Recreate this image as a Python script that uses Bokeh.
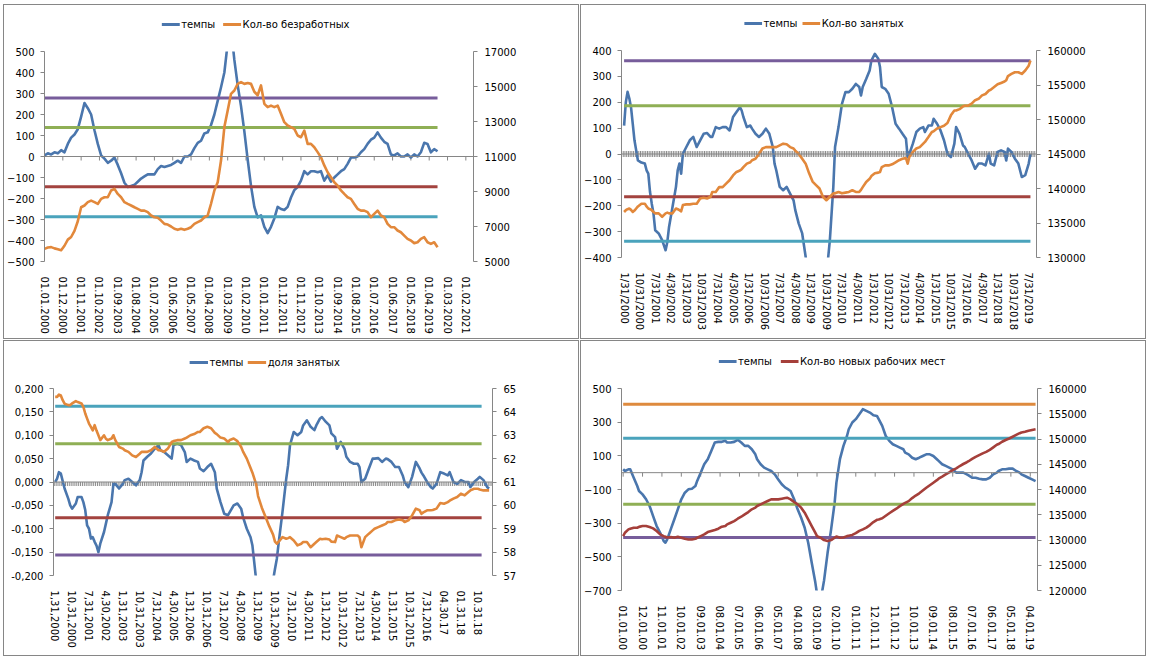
from bokeh.plotting import figure
from bokeh.models import (Range1d, LinearAxis, FixedTicker, Span,
                          CustomJSTickFormatter, BasicTickFormatter)
from bokeh.layouts import column, row
from bokeh.core.properties import value
from bokeh.embed import file_html
from bokeh.resources import INLINE

FONT = "DejaVu Sans"
BLUE = "#4A76AD"
ORANGE = "#E2883B"
DARKRED = "#A53F3A"
PURPLE = "#775D9B"
GREEN = "#8FAF55"
RED = "#A3433F"
TEAL = "#4AA3BC"
LORANGE = "#DE8A3E"
AXIS = "#868686"

# ================= Panel 1: темпы / Кол-во безработных =================
# x = months since Jan 2000
p1_month = list(range(0, 237, 2))
p1_tempy = [5, 15, 10, 20, 15, 30, 20, 60, 90, 105,
            130, 190, 255, 230, 200, 125, 60, 5, -10, -30,
            -20, -5, -40, -80, -125, -145, -140, -135, -120, -105,
            -95, -85, -85, -85, -60, -45, -50, -45, -40, -30,
            -20, -30, 0, 0, 10, 40, 65, 75, 110, 115,
            150, 200, 265, 330, 400, 540, 610, 460, 340, 240,
            120, -15, -140, -240, -290, -280, -335, -365, -335, -295,
            -240, -250, -255, -240, -195, -160, -145, -115, -70, -85,
            -70, -70, -75, -70, -115, -90, -120, -100, -85, -70,
            -60, -35, -5, -5, 0, 20, 35, 60, 80, 90,
            115, 90, 70, 60, 10, 5, 15, 0, 0, 10,
            -5, 10, 0, 20, 65, 60, 20, 35, 25]
p1_unemp = [5720, 5800, 5820, 5750, 5700, 5640, 5900, 6250, 6400, 6750,
            7300, 8100, 8200, 8390, 8480, 8390, 8290, 8580, 8670, 8670,
            9060, 9150, 8860, 8670, 8390, 8290, 8200, 8100, 8010, 7910,
            7910, 7820, 7630, 7530, 7500, 7340, 7150, 7110, 7000, 6870,
            6810, 6870, 6810, 6870, 6960, 7150, 7250, 7340, 7530, 7630,
            8300, 9060, 9530, 10770, 12680, 13630, 14580, 14770, 15150, 15250,
            15150, 15200, 15150, 14700, 14500, 15060, 14010, 13820, 13910, 13820,
            13910, 13440, 12960, 12770, 12680, 12580, 12200, 12100, 12480, 11720,
            11720, 11530, 11250, 10960, 10490, 10100, 9820, 9530, 9340, 9060,
            8860, 8670, 8580, 8290, 8010, 7910, 7910, 7820, 7530, 7720,
            7910, 7630, 7530, 7150, 6960, 6960, 6770, 6670, 6480, 6290,
            6200, 6050, 6100, 6290, 6390, 6100, 6010, 6100, 5820]
p1_levels = [279, 138, -144, -287]
p1_level_colors = [PURPLE, GREEN, RED, TEAL]
p1_label_month = list(range(0, 254, 11))
p1_labels = ["01.01.2000", "01.12.2000", "01.11.2001", "01.10.2002", "01.09.2003",
             "01.08.2004", "01.07.2005", "01.06.2006", "01.05.2007", "01.04.2008",
             "01.03.2009", "01.02.2010", "01.01.2011", "01.12.2011", "01.11.2012",
             "01.10.2013", "01.09.2014", "01.08.2015", "01.07.2016", "01.06.2017",
             "01.05.2018", "01.04.2019", "01.03.2020", "01.02.2021"]
p1_left_ticks = [-500, -400, -300, -200, -100, 0, 100, 200, 300, 400, 500]
p1_right_ticks = [5000, 7000, 9000, 11000, 13000, 15000, 17000]

# ================= Panel 2: темпы / Кол-во занятых =================
p2_month = [0, 1, 2, 3, 4, 5, 6, 7, 8, 10,
            12, 13, 14, 15, 16, 17, 18, 20, 22, 24,
            25, 26, 28, 30, 31, 32, 33, 34, 36, 38,
            40, 42, 44, 46, 48, 50, 51, 53, 55, 57,
            59, 61, 63, 65, 67, 68, 69, 71, 73, 74,
            76, 78, 80, 82, 84, 86, 87, 88, 90, 92,
            94, 96, 98, 99, 101, 103, 105, 107, 109, 111,
            113, 115, 117, 119, 121, 122, 124, 126, 128, 130,
            132, 134, 136, 137, 138, 140, 142, 143, 145, 147,
            148, 149, 151, 153, 155, 157, 159, 161, 163, 164,
            165, 167, 169, 171, 173, 174, 176, 178, 179, 181,
            183, 185, 187, 189, 191, 192, 194, 196, 197, 199,
            201, 203, 205, 207, 209, 211, 212, 214, 216, 218,
            220, 221, 222, 224, 226, 228, 230, 232, 234, 235]
p2_tempy = [110, 200, 240, 215, 181, 117, 53, 14, -25, -33,
            -37, -63, -76, -147, -192, -230, -295, -307, -333, -372,
            -340, -282, -205, -127, -63, -37, -76, 1, 27, 53,
            66, 27, 53, 78, 81, 66, 66, 104, 98, 104,
            104, 91, 143, 162, 181, 168, 143, 104, 110, 98,
            78, 66, 78, 98, 78, 27, -37, -63, -127, -140,
            -127, -153, -179, -217, -269, -307, -397, -520, -620, -680,
            -670, -600, -470, -333, -127, 27, 104, 194, 239, 239,
            252, 271, 259, 226, 259, 290, 323, 361, 387, 368,
            336, 259, 252, 233, 181, 117, 98, 78, 59, -12,
            1, 40, 85, 98, 104, 85, 110, 110, 136, 117,
            91, 53, 1, -12, 40, 104, 78, 33, 27, 1,
            -25, -57, -37, -37, -44, 1, -37, -44, 8, 14,
            8, -25, 21, 8, -18, -37, -89, -82, -37, 1]
p2_employed = [136600, 136850, 137000, 137100, 136900, 136600, 136800, 137100, 137400, 137800,
               137800, 137400, 137100, 137000, 136850, 136600, 136400, 136400, 135900, 136400,
               136500, 136400, 136400, 137100, 137000, 136850, 136700, 137600, 137700, 137700,
               137800, 137800, 138550, 138650, 138550, 138800, 139500, 139500, 140200, 140200,
               140700, 141200, 141900, 142400, 142600, 142800, 143100, 143600, 143800, 144100,
               144300, 145000, 145800, 146000, 146000, 146000, 146000, 146000, 146250, 146500,
               146400, 146000, 145800, 145500, 145000, 144300, 143600, 142200, 141000, 140500,
               140000, 138800, 138300, 138800, 139300, 139300, 139500, 139300, 139400, 139500,
               139750, 139500, 139500, 139800, 140200, 140950, 141400, 141800, 142200, 142300,
               142400, 143100, 143350, 143350, 143500, 143800, 144100, 144300, 144400, 143600,
               144600, 145300, 145800, 146000, 146500, 146750, 147450, 148200, 148300, 148700,
               148900, 149100, 149500, 150600, 151300, 151300, 151500, 151900, 152000, 152000,
               152300, 152800, 153000, 153500, 153700, 154200, 154300, 154700, 155100, 155300,
               155500, 155700, 156300, 156600, 156850, 156850, 156600, 157100, 157800, 158550]
p2_levels = [360, 186, -165, -337]
p2_level_colors = [PURPLE, GREEN, RED, TEAL]
p2_label_month = list(range(0, 235, 9))
p2_labels = ["1/31/2000", "10/31/2000", "7/31/2001", "4/30/2002", "1/31/2003",
             "10/31/2003", "7/31/2004", "4/30/2005", "1/31/2006", "10/31/2006",
             "7/31/2007", "4/30/2008", "1/31/2009", "10/31/2009", "7/31/2010",
             "4/30/2011", "1/31/2012", "10/31/2012", "7/31/2013", "4/30/2014",
             "1/31/2015", "10/31/2015", "7/31/2016", "4/30/2017", "1/31/2018",
             "10/31/2018", "7/31/2019"]
p2_left_ticks = [-400, -300, -200, -100, 0, 100, 200, 300, 400]
p2_right_ticks = [130000, 135000, 140000, 145000, 150000, 155000, 160000]

# ================= Panel 3: темпы / доля занятых =================
p3_month = [0, 1, 2, 3, 4, 5, 7, 8, 9, 11,
            12, 14, 15, 16, 17, 18, 19, 20, 21, 22,
            23, 24, 26, 27, 28, 30, 31, 32, 34, 36,
            37, 39, 41, 43, 45, 46, 47, 49, 51, 53,
            55, 56, 58, 60, 62, 63, 65, 67, 69, 70,
            72, 74, 76, 77, 79, 81, 83, 85, 86, 88,
            90, 92, 93, 95, 97, 99, 100, 102, 104, 105,
            107, 108, 110, 112, 114, 116, 117, 118, 119, 121,
            123, 124, 125, 127, 129, 131, 132, 134, 136, 138,
            139, 141, 142, 144, 146, 147, 149, 150, 152, 154,
            155, 157, 159, 161, 162, 163, 165, 167, 169, 170,
            172, 174, 176, 177, 179, 181, 183, 185, 186, 188,
            190, 192, 194, 195, 196, 198, 200, 201, 203, 205,
            207, 209, 210, 212, 214, 216, 218, 220, 221, 223,
            225, 226, 228, 230, 231]
p3_tempy = [0.000, 0.007, 0.021, 0.018, 0.002, -0.014, -0.036, -0.050, -0.057, -0.046,
            -0.032, -0.032, -0.043, -0.060, -0.093, -0.100, -0.121, -0.118, -0.128, -0.136,
            -0.150, -0.132, -0.107, -0.089, -0.071, -0.043, -0.004, -0.004, -0.014, -0.004,
            0.004, 0.007, 0.000, -0.007, 0.004, 0.021, 0.046, 0.054, 0.061, 0.071,
            0.079, 0.068, 0.064, 0.057, 0.050, 0.079, 0.082, 0.079, 0.064, 0.043,
            0.050, 0.046, 0.043, 0.029, 0.023, 0.032, 0.039, 0.021, -0.014, -0.043,
            -0.068, -0.071, -0.064, -0.050, -0.046, -0.057, -0.075, -0.100, -0.118, -0.136,
            -0.210, -0.240, -0.270, -0.280, -0.250, -0.210, -0.186, -0.164, -0.129, -0.064,
            0.007, 0.036, 0.079, 0.107, 0.100, 0.107, 0.121, 0.132, 0.118, 0.111,
            0.121, 0.136, 0.139, 0.129, 0.121, 0.104, 0.096, 0.071, 0.086, 0.071,
            0.054, 0.043, 0.039, 0.039, 0.032, 0.000, 0.007, 0.029, 0.050, 0.050,
            0.051, 0.043, 0.050, 0.049, 0.043, 0.032, 0.032, 0.014, 0.000, -0.011,
            0.011, 0.043, 0.029, 0.020, 0.014, 0.000, -0.011, -0.014, -0.004, 0.021,
            0.018, 0.014, 0.021, 0.000, -0.004, 0.004, 0.000, 0.000, -0.011, 0.000,
            0.007, 0.011, 0.004, -0.011, -0.014]
p3_share = [64.64, 64.64, 64.74, 64.70, 64.50, 64.35, 64.29, 64.29, 64.36, 64.46,
            64.42, 64.36, 64.21, 63.93, 63.71, 63.50, 63.36, 63.21, 63.43, 63.20,
            63.00, 62.79, 63.00, 62.85, 62.79, 62.86, 63.00, 62.79, 62.50, 62.43,
            62.36, 62.29, 62.14, 62.07, 62.21, 62.29, 62.29, 62.29, 62.36, 62.50,
            62.36, 62.36, 62.29, 62.43, 62.71, 62.75, 62.79, 62.79, 62.86, 62.90,
            63.00, 63.05, 63.14, 63.14, 63.30, 63.36, 63.30, 63.10, 63.05, 62.90,
            62.86, 62.71, 62.80, 62.86, 62.75, 62.50, 62.30, 62.00, 61.60, 61.40,
            60.90, 60.40, 59.90, 59.50, 59.10, 58.75, 58.45, 58.36, 58.45, 58.64,
            58.57, 58.60, 58.64, 58.50, 58.29, 58.36, 58.43, 58.43, 58.21, 58.36,
            58.43, 58.57, 58.55, 58.57, 58.54, 58.45, 58.43, 58.71, 58.64, 58.57,
            58.64, 58.71, 58.71, 58.71, 58.64, 58.21, 58.64, 58.79, 58.93, 59.00,
            59.07, 59.14, 59.21, 59.29, 59.29, 59.36, 59.40, 59.36, 59.29, 59.36,
            59.57, 59.86, 59.79, 59.64, 59.70, 59.79, 59.79, 59.80, 59.86, 60.10,
            60.07, 60.14, 60.20, 60.29, 60.36, 60.50, 60.43, 60.57, 60.64, 60.71,
            60.71, 60.68, 60.64, 60.64, 60.64]
p3_levels = [0.162, 0.082, -0.0764, -0.156]
p3_level_colors = [TEAL, GREEN, RED, PURPLE]
p3_level_end = 227
p3_label_month = list(range(0, 226, 9))
p3_labels = ["1,31,2000", "10,31,2000", "7,31,2001", "4,30,2002", "1,31,2003",
             "10,31,2003", "7,31,2004", "4,30,2005", "1,31,2006", "10,31,2006",
             "7,31,2007", "4,30,2008", "1,31,2009", "10,31,2009", "7,31,2010",
             "4,30,2011", "1,31,2012", "10,31,2012", "7,31,2013", "4,30,2014",
             "1,31,2015", "10,31,2015", "7,31,2016", "04.30.17", "01.31.18", "10.31.18"]
p3_left_ticks = [-0.2, -0.15, -0.1, -0.05, 0.0, 0.05, 0.1, 0.15, 0.2]
p3_right_ticks = [57, 58, 59, 60, 61, 62, 63, 64, 65]

# ================= Panel 4: темпы / Кол-во новых рабочих мест =================
p4_month = [0, 1, 3, 4, 6, 8, 9, 11, 13, 15,
            17, 19, 21, 23, 24, 25, 27, 29, 31, 33,
            35, 37, 39, 41, 42, 44, 46, 48, 50, 52,
            54, 56, 58, 59, 61, 63, 65, 67, 69, 71,
            73, 75, 76, 78, 80, 82, 84, 86, 88, 90,
            92, 93, 95, 97, 99, 101, 103, 105, 107, 109,
            110, 112, 114, 116, 118, 120, 121, 123, 125, 127,
            128, 130, 132, 134, 136, 138, 140, 142, 144, 145,
            147, 149, 151, 153, 155, 157, 159, 160, 162, 164,
            166, 168, 170, 172, 174, 176, 178, 179, 181, 183,
            185, 187, 189, 191, 193, 195, 196, 198, 200, 202,
            204, 206, 208, 210, 212, 213, 215, 217, 219, 221,
            223, 225, 226, 228, 230, 232, 234]
p4_tempy = [20, 10, 20, 20, -30, -79, -109, -129, -158, -198,
            -258, -317, -357, -406, -416, -396, -337, -278, -218, -158,
            -119, -99, -95, -79, -49, 0, 50, 80, 129, 179,
            183, 183, 189, 179, 179, 183, 195, 179, 159, 159,
            139, 109, 80, 50, 30, 20, 10, -10, -40, -69,
            -89, -95, -109, -158, -218, -268, -327, -416, -535, -650,
            -720, -760, -640, -476, -337, -178, -59, 80, 159, 218,
            258, 298, 318, 347, 377, 367, 357, 341, 337, 318,
            278, 218, 189, 169, 159, 149, 139, 119, 109, 89,
            80, 89, 99, 109, 109, 99, 80, 70, 50, 40,
            30, 20, 0, 0, 0, -10, -16, -30, -30, -36,
            -40, -40, -30, -10, 0, 10, 20, 20, 24, 24,
            10, 0, -10, -20, -30, -40, -50]
p4_newjobs = [130770, 131440, 132100, 132230, 132430, 132430, 132600, 132760, 132760, 132560,
              132300, 131770, 131110, 130770, 130650, 130510, 130580, 130440, 130640, 130440,
              130250, 130110, 130110, 130250, 130440, 130770, 131110, 131570, 131770, 131970,
              132230, 132630, 132760, 133090, 133420, 133750, 134210, 134610, 135070, 135530,
              136070, 136400, 136730, 137060, 137390, 137720, 138050, 138050, 138050, 138180,
              138310, 138380, 138050, 137520, 137060, 136400, 135400, 134080, 132760, 131440,
              130770, 130440, 129980, 129780, 129980, 130440, 130700, 130440, 130510, 130770,
              130850, 131000, 131350, 131800, 132100, 132450, 132950, 133550, 134000, 134080,
              134300, 134800, 135300, 135750, 136200, 136700, 137150, 137350, 137700, 138300,
              138800, 139250, 139800, 140350, 140850, 141350, 141850, 142150, 142550, 143000,
              143400, 143850, 144200, 144650, 145050, 145400, 145600, 146050, 146450, 146800,
              147150, 147450, 147850, 148350, 148850, 149000, 149450, 149800, 150100, 150450,
              150800, 151150, 151300, 151450, 151650, 151800, 151930]
p4_levels = [407, 204, -188, -385]
p4_level_colors = [LORANGE, TEAL, GREEN, PURPLE]
p4_label_month = list(range(0, 232, 11))
p4_labels = ["01.01.00", "12.01.00", "11.01.01", "10.01.02", "09.01.03", "08.01.04",
             "07.01.05", "06.01.06", "05.01.07", "04.01.08", "03.01.09", "02.01.10",
             "01.01.11", "12.01.11", "11.01.12", "10.01.13", "09.01.14", "08.01.15",
             "07.01.16", "06.01.17", "05.01.18", "04.01.19"]
p4_left_ticks = [-700, -500, -300, -100, 100, 300, 500]
p4_right_ticks = [120000, 125000, 130000, 135000, 140000, 145000, 150000, 155000, 160000]


def style_axis(ax, standoff):
    ax.axis_line_color = AXIS
    ax.major_tick_line_color = AXIS
    ax.major_tick_out = 4
    ax.major_tick_in = 0
    ax.minor_tick_line_color = None
    ax.major_label_text_font = FONT
    ax.major_label_text_font_size = "10px"
    ax.major_label_text_color = "#000000"
    ax.major_label_standoff = standoff


def legend_fig(w, lh, yc, x0s, colors, names):
    f = figure(width=w, height=lh, x_range=Range1d(0, w), y_range=Range1d(0, lh),
               output_backend="svg", toolbar_location=None,
               x_axis_type=None, y_axis_type=None,
               min_border_left=0, min_border_right=0, min_border_top=0, min_border_bottom=0)
    f.outline_line_color = None
    f.xgrid.visible = False
    f.ygrid.visible = False
    yy = lh - yc
    f.segment(x0=x0s, x1=[x + 24 for x in x0s], y0=[yy] * len(x0s), y1=[yy] * len(x0s),
              line_color=colors, line_width=2.8)
    f.text(x=[x + 26 for x in x0s], y=[yy] * len(x0s), text=names,
           text_font=value(FONT), text_font_size=value("10px"), text_color="#000000",
           text_baseline="middle", text_align="left")
    return f


def build(w, h, left, top, fw, fh, xr, yl, yr, lticks, rticks, lab_m, labs,
          months, s1, s2, name2, col2, levels, lcolors, lev_end,
          zero_ticks, tick_up_px, tick_down_px, leg_x0s, leg_yc,
          left_fmt=None, tick_color=AXIS):
    inner_top = 8
    lh = top - inner_top
    mh = h - lh
    p = figure(width=w, height=mh, x_range=Range1d(*xr), y_range=Range1d(*yl),
               output_backend="svg", toolbar_location=None,
               min_border_left=left, min_border_right=w - left - fw,
               min_border_top=inner_top, min_border_bottom=mh - inner_top - fh)
    p.xgrid.visible = False
    p.ygrid.visible = False
    p.outline_line_color = None
    p.extra_y_ranges = {"r": Range1d(*yr)}

    # bottom axis: labels only
    xa = p.xaxis[0]
    xa.ticker = FixedTicker(ticks=lab_m)
    xa.major_label_overrides = {m: s for m, s in zip(lab_m, labs)}
    xa.major_label_orientation = "vertical"
    xa.axis_line_color = None
    xa.major_tick_line_color = None
    xa.minor_tick_line_color = None
    xa.major_label_text_font = FONT
    xa.major_label_text_font_size = "10px"
    xa.major_label_text_color = "#000000"
    xa.major_label_standoff = 9

    ya = p.yaxis[0]
    ya.ticker = FixedTicker(ticks=lticks)
    style_axis(ya, 6)
    if left_fmt is not None:
        ya.formatter = left_fmt

    ra = LinearAxis(y_range_name="r", ticker=FixedTicker(ticks=rticks),
                    formatter=BasicTickFormatter(use_scientific=False))
    style_axis(ra, 7)
    p.add_layout(ra, "right")

    # zero axis line with tick marks
    p.add_layout(Span(location=0, dimension="width", line_color=AXIS, line_width=1))
    unit = (yl[1] - yl[0]) / fh
    p.segment(x0=zero_ticks, x1=zero_ticks, y0=[tick_up_px * unit] * len(zero_ticks),
              y1=[-tick_down_px * unit] * len(zero_ticks), line_color=tick_color, line_width=1)

    p.line(months, s1, line_color=BLUE, line_width=2.6, line_join="round")
    for lv, c in zip(levels, lcolors):
        p.line([months[0], lev_end], [lv, lv], line_color=c, line_width=3)
    p.line(months, s2, line_color=col2, line_width=2.6, line_join="round", y_range_name="r")

    lf = legend_fig(w, lh, leg_yc, leg_x0s, [BLUE, col2], ["темпы", name2])
    return column(lf, p, spacing=0, styles={"border": "1px solid " + AXIS})


p1 = build(574, 333, 39, 46, 430, 210, (0, 257.6), (-500, 500), (5000, 17000),
           p1_left_ticks, p1_right_ticks, p1_label_month, p1_labels,
           p1_month, p1_tempy, p1_unemp, "Кол-во безработных", ORANGE,
           p1_levels, p1_level_colors, p1_month[-1],
           p1_label_month, 0, 4, [157, 239], 19)

p2_dense = [m - 0.5 for m in range(-1, 240)]
p2 = build(564, 333, 39, 45, 416, 207, (-1.5, 238.5), (-400, 400), (130000, 160000),
           p2_left_ticks, p2_right_ticks, p2_label_month, p2_labels,
           p2_month, p2_tempy, p2_employed, "Кол-во занятых", ORANGE,
           p2_levels, p2_level_colors, p2_month[-1],
           p2_dense, 3, 3, [167, 246], 18, tick_color="#8a8a8a")

p3_dense = [m - 0.5 for m in range(0, 234)]
fmt3 = CustomJSTickFormatter(code="return tick.toFixed(3).replace('.', ',');")
p3 = build(574, 314, 49, 47, 439, 187, (-0.9, 232.8), (-0.2, 0.2), (57, 65),
           p3_left_ticks, p3_right_ticks, p3_label_month, p3_labels,
           p3_month, p3_tempy, p3_share, "доля занятых", ORANGE,
           p3_levels, p3_level_colors, p3_level_end,
           p3_dense, 0, 4, [178, 254], 21, left_fmt=fmt3, tick_color="#8a8a8a")

p4 = build(564, 314, 39, 47, 417, 202, (-0.94, 235.1), (-700, 500), (120000, 160000),
           p4_left_ticks, p4_right_ticks, p4_label_month, p4_labels,
           p4_month, p4_tempy, p4_newjobs, "Кол-во новых рабочих  мест", DARKRED,
           p4_levels, p4_level_colors, p4_month[-1],
           p4_label_month, 0, 4, [132, 216], 20)

layout = column(row(p1, p2, spacing=1), row(p3, p4, spacing=1), spacing=1,
                styles={"margin-left": "3px", "margin-top": "4px"})
open("out.html", "w").write(file_html(layout, INLINE))
